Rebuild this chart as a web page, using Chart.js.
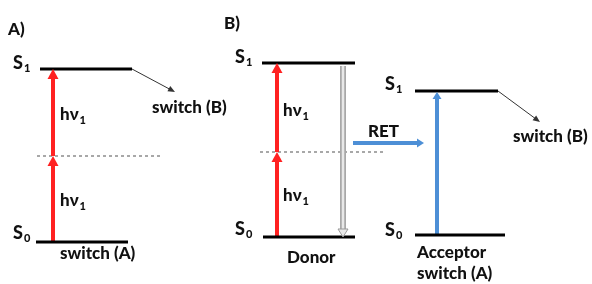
<!DOCTYPE html>
<html>
<head>
<meta charset="utf-8">
<script src="https://cdn.jsdelivr.net/npm/chart.js@4"></script>
<style>
  html, body { margin: 0; padding: 0; background: #fff; }
  #wrap { width: 592px; height: 284px; }
</style>
</head>
<body>
<div id="wrap"><canvas id="diagram"></canvas></div>
<script>
// energy levels, diagram units (y grows downward)
const levelStart = [40, 36, 262, 263, 415, 415];
const levelEnd   = [132, 128, 355, 355, 498, 505];
const levelY     = [69, 242, 63, 237, 91, 235];

// virtual levels (dashed)
const virtStart = [37, 260];
const virtEnd   = [161, 385];
const virtY     = [156, 152];

// red photon absorption arrows
const photonX    = [53, 53, 277, 277];
const photonFrom = [242, 156, 237, 152];
const photonTo   = [156, 69, 152, 63];

// donor emission (hollow gray), RET and acceptor excitation (blue)
const emissionX = 343, emissionFrom = 66, emissionTo = 237;
const retY = 143, retFrom = 353, retTo = 424;
const acceptorX = 437, acceptorFrom = 235, acceptorTo = 92;

// S1 -> switch(B) thin arrows
const switchX0 = [132, 498];
const switchY0 = [69, 91];
const switchX1 = [175, 540];
const switchY1 = [92, 122];

// text labels
const labelText = ["A)", "B)", "S", "S", "S", "S", "S", "S", "hν", "hν", "hν", "hν",
  "switch (B)", "switch (A)", "Donor", "RET", "Acceptor", "switch (A)", "switch (B)"];
const labelSub = ["", "", "1", "0", "1", "0", "1", "0", "1", "1", "1", "1",
  "", "", "", "", "", "", ""];
const labelX = [8, 224, 13, 13, 235, 235, 385, 385, 60, 60, 283, 283, 152, 60, 287, 368, 417, 417, 513];
const labelY = [30, 24, 63, 233, 57, 229, 84, 230, 115, 201, 111, 196, 108, 254, 258, 132, 253, 274, 137];

const RED = "#ff2121";
const BLUE = "#4d8fd6";

function seg(x0, y0, x1, y1, color, width, extra) {
  return Object.assign({
    data: [{x: x0, y: y0}, {x: x1, y: y1}],
    showLine: true,
    borderColor: color,
    borderWidth: width,
    pointRadius: 0,
    borderCapStyle: "butt",
    clip: false
  }, extra || {});
}

// arrow shaft stops a little short of the tip, head is drawn by the plugin
function arrow(x0, y0, x1, y1, color, width, head, shaftColor) {
  const dx = x1 - x0, dy = y1 - y0, d = Math.hypot(dx, dy);
  const back = head.len * 0.7;
  const ex = x1 - dx / d * back, ey = y1 - dy / d * back;
  return seg(x0, y0, ex, ey, shaftColor || color, width,
    {head: Object.assign({from: {x: x0, y: y0}, tip: {x: x1, y: y1}, fill: color}, head)});
}

const datasets = [];
levelY.forEach((y, i) => datasets.push(seg(levelStart[i], y, levelEnd[i], y, "#000", 3)));
photonX.forEach((x, i) => datasets.push(arrow(x, photonFrom[i], x, photonTo[i], RED, 4, {len: 10, half: 5.5})));
datasets.push(arrow(acceptorX, acceptorFrom, acceptorX, acceptorTo, BLUE, 4, {len: 7, half: 4.5}));
datasets.push(arrow(retFrom, retY, retTo, retY, BLUE, 4, {len: 7, half: 4.5}));
switchX0.forEach((x, i) => datasets.push(arrow(x, switchY0[i], switchX1[i], switchY1[i], "#333", 1, {len: 7, half: 3})));
// hollow gray emission arrow: light core over gray outline
datasets.push(seg(emissionX, emissionFrom, emissionX, emissionTo - 6, "#e8e8e8", 2.5));
datasets.push(arrow(emissionX, emissionFrom, emissionX, emissionTo, "#e8e8e8", 6,
  {len: 8, half: 5, stroke: "#999"}, "#a8a8a8"));
virtY.forEach((y, i) => datasets.push(seg(virtStart[i], y, virtEnd[i], y, "#8c8c8c", 1.5, {borderDash: [3, 3]})));

const decorPlugin = {
  id: "decor",
  afterDatasetsDraw(chart) {
    const ctx = chart.ctx, xs = chart.scales.x, ys = chart.scales.y;
    ctx.save();
    chart.data.datasets.forEach(ds => {
      const h = ds.head;
      if (!h) return;
      const fx = xs.getPixelForValue(h.from.x), fy = ys.getPixelForValue(h.from.y);
      const tx = xs.getPixelForValue(h.tip.x), ty = ys.getPixelForValue(h.tip.y);
      const a = Math.atan2(ty - fy, tx - fx);
      const bx = tx - Math.cos(a) * h.len, by = ty - Math.sin(a) * h.len;
      ctx.beginPath();
      ctx.moveTo(tx, ty);
      ctx.lineTo(bx + Math.sin(a) * h.half, by - Math.cos(a) * h.half);
      ctx.lineTo(bx - Math.sin(a) * h.half, by + Math.cos(a) * h.half);
      ctx.closePath();
      ctx.fillStyle = h.fill;
      ctx.fill();
      if (h.stroke) {
        ctx.strokeStyle = h.stroke;
        ctx.lineWidth = 1;
        ctx.stroke();
      }
    });
    ctx.fillStyle = "#111";
    ctx.textBaseline = "middle";
    ctx.textAlign = "left";
    labelText.forEach((t, i) => {
      const x = xs.getPixelForValue(labelX[i]), y = ys.getPixelForValue(labelY[i]);
      ctx.font = (t === "S" ? "900 18px" : "900 17px") + " Lato";
      ctx.fillText(t, x, y);
      if (labelSub[i]) {
        const w = ctx.measureText(t).width;
        ctx.font = "900 11px Lato";
        ctx.fillText(labelSub[i], x + w + 1, y + 5);
      }
    });
    ctx.restore();
  }
};

new Chart(document.getElementById("diagram"), {
  type: "scatter",
  data: { datasets: datasets },
  options: {
    responsive: true,
    maintainAspectRatio: false,
    animation: false,
    events: [],
    layout: { padding: 0, autoPadding: false },
    plugins: { legend: { display: false }, tooltip: { enabled: false } },
    scales: {
      x: { type: "linear", min: 0, max: 592, display: false },
      y: { type: "linear", min: 0, max: 284, reverse: true, display: false }
    }
  },
  plugins: [decorPlugin]
});
</script>
</body>
</html>
